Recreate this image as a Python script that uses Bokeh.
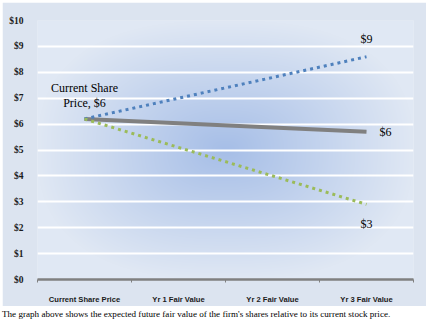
import numpy as np
from bokeh.plotting import figure
from bokeh.models import FixedTicker, Div, Range1d
from bokeh.layouts import column
from bokeh.embed import file_html
from bokeh.resources import INLINE
from bokeh.core.properties import value

categories = ["Current Share Price", "Yr 1 Fair Value", "Yr 2 Fair Value", "Yr 3 Fair Value"]
y_ticks = [0, 1, 2, 3, 4, 5, 6, 7, 8, 9, 10]
y_tick_labels = ["$0", "$1", "$2", "$3", "$4", "$5", "$6", "$7", "$8", "$9", "$10"]
point_idx = [0, 3]
high_values = [6.2, 8.6]
base_values = [6.2, 5.7]
low_values = [6.2, 2.9]
start_label = "Current Share\nPrice, $6"
caption = "The graph above shows the expected future fair value of the firm's shares relative to its current stock price."

PANEL = "#dce4f0"
BLUE = "#4f81bd"
GREEN = "#9bbb59"
GRAY = "#808080"

p = figure(width=424, height=304, output_backend="svg", toolbar_location=None,
           x_range=Range1d(-0.5, len(categories) - 0.5), y_range=Range1d(0, 10),
           min_border_left=35, min_border_right=13, min_border_top=18, min_border_bottom=26,
           border_fill_color=PANEL, background_fill_color=PANEL, outline_line_color=None,
           margin=(2, 2, 0, 2))

# gradient background of plot area (from centre)
W, H = 376, 260
u = np.linspace(-1, 1, W)[None, :]
v = np.linspace(-1, 1, H)[:, None]
t = np.clip((np.abs(u) ** 2.5 + np.abs(v) ** 2.5) ** (1 / 2.5), 0, 1)
c0 = np.array([0xa6, 0xbe, 0xe7], dtype=float)
c1 = np.array([0xe0, 0xe8, 0xf4], dtype=float)
rgb = c0[None, None, :] * (1 - t[..., None]) + c1[None, None, :] * t[..., None]
img = np.zeros((H, W), dtype=np.uint32)
view = img.view(dtype=np.uint8).reshape((H, W, 4))
view[..., 0] = rgb[..., 0].astype(np.uint8)
view[..., 1] = rgb[..., 1].astype(np.uint8)
view[..., 2] = rgb[..., 2].astype(np.uint8)
view[..., 3] = 255
p.image_rgba(image=[img], x=-0.5, y=0, dw=len(categories), dh=10, level="image")

# axes
p.yaxis.ticker = FixedTicker(ticks=y_ticks)
p.yaxis.major_label_overrides = {t_: l for t_, l in zip(y_ticks, y_tick_labels)}
p.yaxis.axis_line_color = None
p.yaxis.major_tick_line_color = None
p.yaxis.minor_tick_line_color = None
p.yaxis.major_label_text_font = "Liberation Serif"
p.yaxis.major_label_text_font_style = "bold"
p.yaxis.major_label_text_font_size = "9.5px"
p.yaxis.major_label_text_color = "#1a1a1a"
p.yaxis.major_label_standoff = 8

cat_pos = list(range(len(categories)))
p.xaxis.ticker = FixedTicker(ticks=cat_pos, minor_ticks=[i - 0.5 for i in range(len(categories) + 1)])
p.xaxis.major_label_overrides = {i: c for i, c in enumerate(categories)}
p.xaxis.axis_line_color = GRAY
p.xaxis.axis_line_width = 2.5
p.xaxis.major_tick_line_color = None
p.xaxis.minor_tick_line_color = GRAY
p.xaxis.minor_tick_out = 3
p.xaxis.minor_tick_in = 0
p.xaxis.major_label_text_font = "Liberation Sans"
p.xaxis.major_label_text_font_style = "bold"
p.xaxis.major_label_text_font_size = "7.6px"
p.xaxis.major_label_text_color = "#1a1a1a"
p.xaxis.major_label_standoff = 9

p.xgrid.grid_line_color = None
p.ygrid.ticker = FixedTicker(ticks=y_ticks)
p.ygrid.grid_line_color = "white"
p.ygrid.grid_line_width = 2

# series
p.line(point_idx, base_values, line_color=GRAY, line_width=4)
p.line(point_idx, high_values, line_color=BLUE, line_width=3, line_dash="3 4")
p.line(point_idx, low_values, line_color=GREEN, line_width=3, line_dash="3 4")

serif = value("Liberation Serif")
p.text(x=[point_idx[0]], y=[base_values[0]], text=[start_label], text_font=serif,
       text_font_size="12px", text_align="center", text_baseline="bottom",
       text_line_height=1.1, y_offset=-9, text_color="black")
p.text(x=[point_idx[1]], y=[high_values[1]], text=["$%d" % round(high_values[1])], text_font=serif,
       text_font_size="12px", text_align="center", text_baseline="middle", y_offset=-18, text_color="black")
p.text(x=[point_idx[1]], y=[base_values[1]], text=["$%d" % round(base_values[1])], text_font=serif,
       text_font_size="12px", text_align="center", text_baseline="middle", x_offset=19, text_color="black")
p.text(x=[point_idx[1]], y=[low_values[1]], text=["$%d" % round(low_values[1])], text_font=serif,
       text_font_size="12px", text_align="center", text_baseline="middle", y_offset=20, text_color="black")

cap = Div(text=caption, width=426, height=16, margin=(0, 0, 0, 2),
          styles={"font-family": "Liberation Serif", "font-size": "9.1px", "line-height": "16px",
                  "color": "black", "white-space": "nowrap"})

layout = column(p, cap, spacing=0)
open("out.html", "w").write(file_html(layout, INLINE))
